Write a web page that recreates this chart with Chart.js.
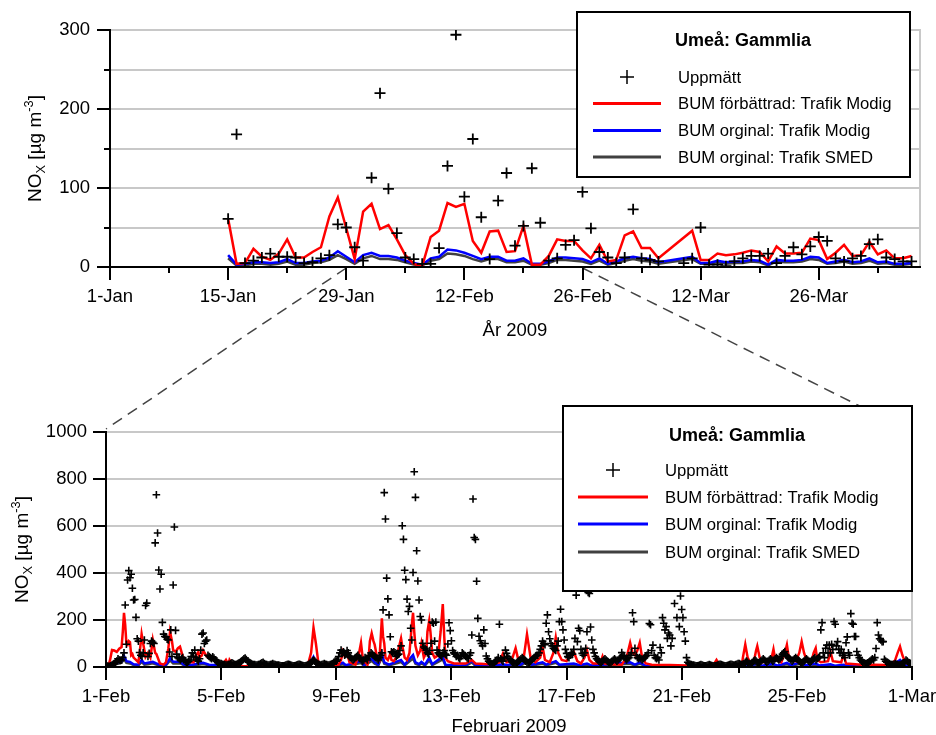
<!DOCTYPE html>
<html><head><meta charset="utf-8">
<script src="https://cdn.jsdelivr.net/npm/chart.js@4.4.1/dist/chart.umd.min.js"></script>
<style>
html,body{margin:0;padding:0;background:#fff;}
#wrap{position:relative;width:936px;height:735px;overflow:hidden;background:#fff;}
canvas{position:absolute;left:0;}
#links{top:0;z-index:0}
#top{top:0;z-index:1}
#bot{top:345px;z-index:1}
</style></head><body>
<div id="wrap">
<canvas id="links" width="936" height="735"></canvas>
<canvas id="top" width="936" height="345"></canvas>
<canvas id="bot" width="936" height="390"></canvas>
</div>
<script>
// ---------------- DATA ----------------
const legendTitle = 'Umeå: Gammlia';
const seriesNames = ['Uppmätt', 'BUM förbättrad: Trafik Modig', 'BUM orginal: Trafik Modig', 'BUM orginal: Trafik SMED'];

// Top panel: daily means, first value = 15-Jan (day 14 counted from 1-Jan)
const topStartDay = 14;
const topTickLabels = ['1-Jan', '15-Jan', '29-Jan', '12-Feb', '26-Feb', '12-Mar', '26-Mar'];
const topMeasured = [61,168,5,8,12,17,13,13,12,5,6,11,15,54,50,25,8,113,220,99,43,12,10,4,4,24,128,294,89,162,63,10,84,119,27,52,125,56,8,11,28,34,95,49,19,12,5,12,73,11,9,7,null,null,5,11,50,3,3,1,7,11,14,14,17,5,14,25,16,26,38,33,11,7,11,14,29,35,12,10,7,7];
const topRed = [61,4,5,23,13,9,17,35,12,12,19,25,64,88,49,10,70,80,48,53,35,15,4,1,38,46,81,76,80,33,18,45,46,19,20,52,3,3,14,35,33,33,21,11,28,7,9,40,45,24,24,11,null,null,null,46,9,9,17,15,16,18,21,19,7,26,17,17,18,36,34,10,18,28,14,15,32,16,21,11,11,14];
const topBlue = [15,3,4,6,6,5,6,10,5,5,7,8,12,20,13,6,15,18,14,14,12,8,5,3,11,13,22,21,18,14,10,13,13,8,8,11,4,4,7,12,12,11,10,6,11,4,7,11,13,11,10,6,null,null,null,13,5,5,8,6,7,7,9,8,3,9,8,8,9,13,12,5,7,9,6,7,11,6,7,4,4,5];
const topGray = [11,2,2,4,4,3,4,7,3,3,5,6,9,15,10,4,11,14,10,10,9,6,3,2,8,10,17,16,14,10,7,10,10,6,6,8,3,3,5,9,9,8,7,4,8,3,5,8,10,8,7,4,null,null,null,10,4,4,6,4,5,5,7,6,2,7,6,6,7,10,9,4,5,7,4,5,8,4,5,3,3,4];

// Bottom panel: hourly values, February 2009 (one row per day, 24 hours)
const botTickLabels = ['1-Feb', '5-Feb', '9-Feb', '13-Feb', '17-Feb', '21-Feb', '25-Feb', '1-Mar'];
const botMeasured = [
  5,4,3,3,5,8,12,15,20,25,35,30,28,30,40,60,264,97,370,410,380,395,335,285,
  287,211,120,110,62,50,45,60,115,262,272,45,58,100,110,105,100,528,733,570,413,332,395,190,
  140,130,128,118,115,64,158,45,349,596,156,55,40,35,30,35,40,30,25,20,20,25,30,45,
  60,45,72,40,30,25,35,72,140,145,100,110,115,50,45,40,35,43,38,30,25,20,18,15,
  15,12,10,10,8,8,10,12,15,18,15,12,10,12,15,18,20,25,30,35,38,32,25,20,
  18,15,12,10,10,8,8,10,12,15,18,20,15,12,10,8,8,10,12,15,12,10,8,8,
  8,6,5,5,5,6,8,10,12,10,8,6,5,5,6,8,10,12,10,8,6,5,5,6,
  8,10,15,20,25,30,25,20,15,12,10,8,10,12,15,12,10,8,8,10,12,15,20,25,
  25,30,45,60,72,58,65,50,55,70,60,45,40,35,30,35,40,45,50,40,35,30,25,30,
  40,35,30,45,50,60,55,50,45,40,35,30,40,50,60,243,742,630,378,290,222,129,65,60,
  65,60,45,50,55,70,90,601,543,412,372,289,236,258,165,115,402,831,722,495,366,285,215,200,
  101,85,80,72,60,55,70,101,191,186,110,191,72,60,55,50,45,60,70,55,50,98,188,155,
  112,70,60,55,45,50,40,35,45,60,55,50,45,40,35,50,60,136,715,551,543,365,207,131,
  112,100,90,158,100,47,35,25,20,15,12,15,20,25,30,40,182,35,30,25,40,72,58,45,
  35,30,25,20,18,15,15,20,25,30,35,40,35,30,25,20,18,20,25,30,35,40,45,50,
  50,60,75,90,110,100,95,186,222,150,120,100,90,80,75,70,90,110,193,246,193,158,115,75,
  58,44,40,50,60,55,75,122,306,108,165,155,75,58,50,60,80,150,317,313,170,115,75,60,
  45,35,30,25,20,20,25,30,35,30,25,20,18,20,25,30,35,30,25,30,35,40,61,50,
  45,35,30,35,40,50,60,231,193,80,50,40,35,40,35,30,35,40,45,50,60,185,180,70,
  93,50,40,35,40,30,83,60,210,186,158,172,122,145,136,90,122,342,270,342,210,342,172,302,
  245,210,150,110,40,20,15,12,10,8,8,6,5,5,6,8,10,8,6,5,5,6,8,10,
  8,6,5,5,5,6,8,10,12,10,8,6,5,5,6,8,10,12,10,8,8,10,12,15,
  15,12,10,12,15,20,25,20,15,12,15,20,25,30,25,20,18,20,25,30,35,30,25,20,
  25,30,35,30,25,30,35,40,35,30,35,45,55,60,66,50,45,40,35,30,25,30,35,40,
  35,30,25,20,18,20,25,30,35,30,25,20,25,30,35,40,30,35,40,45,158,189,60,40,
  80,93,60,93,60,97,75,193,182,90,108,75,60,75,50,60,40,103,128,60,50,227,186,182,
  130,130,66,50,40,30,25,20,18,15,15,18,20,25,30,35,30,40,79,189,136,120,115,108,
  108,33,25,20,18,15,12,10,10,12,15,12,10,8,10,12,15,18,20,30,25,20,18,15
];
// Model lines as [hour, value] vertices
const botRed = [[0,0],[2,5],[3.4,30],[5,72],[7,70],[9,64],[11,78],[13,85],[14,150],[15,230],[16,180],[17,100],[18,95],[19,110],[20,106],[21,50],[22,55],[23,40],[25,30],[27,20],[28.5,80],[29.7,140],[31,100],[33,43],[35,60],[37,40],[39,115],[41,60],[42,55],[45,15],[48,10],[50,20],[52,80],[53.4,150],[55,110],[56,72],[58,65],[60,80],[61.7,87],[64,45],[67,20],[70,20],[73,20],[75,50],[77,64],[78,40],[80,50],[81,70],[84,45],[88,30],[90,35],[93,15],[97,10],[100,30],[102,10],[103,30],[106,5],[110,3],[168,3],[171,60],[173,167],[175,100],[177,20],[180,10],[184,15],[188,8],[194,10],[196,30],[197.5,65],[199,45],[201,60],[203,20],[208,10],[211,60],[212.6,103],[214,40],[216,20],[218,10],[219,40],[220,110],[221.5,143],[223,110],[224,95],[226,40],[228,30],[229,120],[230,207],[231,130],[232,100],[233,40],[235,30],[237,55],[238,30],[240,25],[243,50],[244,80],[246,122],[247,90],[249,40],[251,30],[253,60],[254,120],[255,180],[256,231],[257,150],[258,90],[260,50],[262,70],[263,100],[265,40],[267,60],[268,150],[269.5,197],[270.5,150],[272,60],[274,40],[277,50],[279,150],[280.8,268],[282,130],[283,40],[285,25],[290,15],[300,15],[305,30],[308,15],[320,12],[328,20],[331,58],[334,20],[338,25],[341.5,80],[344,25],[348,30],[351,139],[354,40],[358,20],[362,40],[364,86],[366,30],[370,20],[373,60],[375,126],[377,60],[380,30],[384,25],[387,50],[390,65],[393,25],[396,15],[399,40],[401,72],[403,30],[406,15],[412,15],[414,45],[416,15],[422,12],[430,10],[434,40],[437,103],[439,60],[441,50],[443,70],[445,103],[447,40],[450,15],[455,10],[470,8],[490,5],[506,5],[509,30],[512,5],[530,5],[531,40],[533,96],[535,40],[537,20],[540,20],[542,70],[543,89],[545,40],[547,20],[552,25],[555,40],[556.5,75],[558,30],[563,20],[566,60],[567.7,94],[569,50],[572,30],[575,25],[578,60],[580,108],[582,60],[584,30],[588,20],[590,60],[591.7,80],[593,30],[596,20],[602,25],[604,65],[606,25],[613,20],[615,55],[617,15],[630,10],[640,10],[650,8],[655,10],[658,30],[660,60],[662,87],[664,50],[666,25],[668,15],[671,10]];
const botBlue = [[0,0],[3,10],[6,18],[10,20],[13,25],[15,47],[17,25],[20,22],[23,12],[27,10],[29.7,30],[32,15],[35,18],[39,22],[42,15],[46,8],[50,10],[53.4,38],[56,22],[61.7,22],[65,10],[70,8],[77,15],[81,18],[86,10],[95,8],[103,10],[110,3],[168,3],[171,20],[173,42],[176,8],[190,5],[197.5,18],[200,8],[212.6,25],[215,8],[221.5,37],[224,20],[227,10],[230,58],[232,20],[236,10],[246,30],[249,10],[256,51],[258,20],[261,12],[263,22],[266,10],[269.5,40],[272,12],[280.8,45],[283,10],[295,5],[300,8],[305,27],[308,8],[320,5],[331,12],[335,8],[341.5,18],[345,8],[351,28],[355,10],[364,20],[367,10],[375,25],[378,10],[390,15],[395,8],[401,15],[405,6],[437,20],[441,10],[445,20],[450,5],[500,3],[509,6],[520,3],[533,15],[536,6],[543,15],[547,5],[556,14],[560,6],[567.7,18],[571,8],[580,22],[583,8],[591.7,15],[595,6],[604,12],[608,5],[615,10],[620,4],[640,4],[655,5],[662,30],[666,8],[671,5]];
const botGray = [[0,0],[3,8],[6,12],[10,14],[13,18],[15,33],[17,18],[20,15],[23,8],[27,7],[29.7,22],[32,10],[35,12],[39,16],[42,10],[46,5],[50,7],[53.4,28],[56,15],[61.7,16],[65,7],[70,5],[77,10],[81,13],[86,7],[95,5],[103,7],[110,2],[168,2],[171,14],[173,30],[176,5],[190,3],[197.5,12],[200,5],[212.6,17],[215,5],[221.5,26],[224,14],[227,7],[230,40],[232,14],[236,7],[246,21],[249,7],[256,36],[258,14],[261,8],[263,15],[266,7],[269.5,28],[272,8],[280.8,32],[283,7],[295,3],[300,5],[305,20],[308,5],[320,3],[331,8],[335,5],[341.5,12],[345,5],[351,20],[355,7],[364,14],[367,7],[375,18],[378,7],[390,10],[395,5],[401,10],[405,4],[437,14],[441,7],[445,14],[450,3],[500,2],[509,4],[520,2],[533,10],[536,4],[543,10],[547,3],[556,10],[560,4],[567.7,12],[571,5],[580,15],[583,5],[591.7,10],[595,4],[604,8],[608,3],[615,7],[620,2],[640,2],[655,3],[662,20],[666,5],[671,3]];

// zoom connectors: top-panel days where the dashed lines start
const linkDays = [28, 56];

// ---------------- STYLE ----------------
const FONT = "'Liberation Sans', Arial, Helvetica, sans-serif";
const COLORS = ['#000000', '#ff0000', '#0000ff', '#404040'];
const GRID = '#c8c8c8';

function drawYTitle(ctx, cx, cy, size) {
  const sub = size * 0.68;
  const parts = [
    {t: 'NO', s: size, dy: 0},
    {t: 'X', s: sub, dy: size * 0.22},
    {t: ' [µg m', s: size, dy: 0},
    {t: '-3', s: sub, dy: -size * 0.38},
    {t: ']', s: size, dy: 0}
  ];
  ctx.save();
  ctx.translate(cx, cy);
  ctx.rotate(-Math.PI / 2);
  ctx.fillStyle = '#000';
  ctx.textBaseline = 'alphabetic';
  let total = 0;
  parts.forEach(p => { ctx.font = p.s + 'px ' + FONT; p.w = ctx.measureText(p.t).width; total += p.w; });
  let x = -total / 2;
  const base = size * 0.35;
  parts.forEach(p => { ctx.font = p.s + 'px ' + FONT; ctx.fillText(p.t, x, base + p.dy); x += p.w; });
  ctx.restore();
}

function drawLegend(ctx, L) {
  ctx.save();
  ctx.fillStyle = '#fff';
  ctx.fillRect(L.x, L.y, L.w, L.h);
  ctx.strokeStyle = '#000'; ctx.lineWidth = 2;
  ctx.strokeRect(L.x, L.y, L.w, L.h);
  ctx.fillStyle = '#000';
  ctx.font = 'bold ' + L.titleSize + 'px ' + FONT;
  ctx.textAlign = 'center'; ctx.textBaseline = 'middle';
  ctx.fillText(legendTitle, L.titleX, L.titleY);
  ctx.font = L.size + 'px ' + FONT;
  ctx.textAlign = 'left';
  seriesNames.forEach((name, i) => {
    const y = L.rows[i];
    ctx.strokeStyle = COLORS[i];
    if (i === 0) {
      const cx = (L.lx0 + L.lx1) / 2, r = L.cross;
      ctx.lineWidth = 1.5;
      ctx.beginPath();
      ctx.moveTo(cx - r, y); ctx.lineTo(cx + r, y);
      ctx.moveTo(cx, y - r); ctx.lineTo(cx, y + r);
      ctx.stroke();
    } else {
      ctx.lineWidth = 3;
      ctx.beginPath(); ctx.moveTo(L.lx0, y); ctx.lineTo(L.lx1, y); ctx.stroke();
    }
    ctx.fillText(name, L.tx, y + 1);
  });
  ctx.restore();
}

const deco = {
  id: 'deco',
  afterDraw(chart, args, o) {
    const ctx = chart.ctx, ca = chart.chartArea, xs = chart.scales.x, ys = chart.scales.y;
    ctx.save();
    ctx.strokeStyle = GRID; ctx.lineWidth = 2;
    ctx.beginPath(); ctx.moveTo(ca.right, ca.top - 1); ctx.lineTo(ca.right, ca.bottom); ctx.stroke();
    ctx.strokeStyle = '#000'; ctx.lineWidth = 2;
    ctx.beginPath();
    ctx.moveTo(ca.left, ca.top - 1); ctx.lineTo(ca.left, ca.bottom + o.major);
    ctx.moveTo(ca.left, ca.bottom); ctx.lineTo(ca.right + 1, ca.bottom);
    xs.ticks.forEach(t => {
      const x = Math.round(xs.getPixelForValue(t.value));
      const len = t.label ? o.major : o.minor;
      ctx.moveTo(x, ca.bottom); ctx.lineTo(x, ca.bottom + len);
    });
    ys.ticks.forEach(t => {
      const y = Math.round(ys.getPixelForValue(t.value));
      const len = t.label ? o.major : o.minor;
      ctx.moveTo(ca.left - len, y); ctx.lineTo(ca.left, y);
    });
    ctx.stroke();
    ctx.restore();
    drawYTitle(ctx, o.yTitleX, (ca.top + ca.bottom) / 2, o.yTitleSize);
    drawLegend(ctx, o.legend);
  }
};

function makeChart(canvas, cfg) {
  return new Chart(canvas, {
    type: 'scatter',
    data: {
      datasets: [
        {data: cfg.measured, showLine: false, pointStyle: 'cross', pointRadius: cfg.crossR, pointBorderWidth: cfg.crossW, borderColor: '#000', backgroundColor: '#000'},
        {data: cfg.red, showLine: true, borderColor: COLORS[1], borderWidth: cfg.lineW, pointRadius: 0, spanGaps: true, tension: 0},
        {data: cfg.blue, showLine: true, borderColor: COLORS[2], borderWidth: cfg.lineW, pointRadius: 0, spanGaps: true, tension: 0},
        {data: cfg.gray, showLine: true, borderColor: COLORS[3], borderWidth: cfg.lineW, pointRadius: 0, spanGaps: true, tension: 0}
      ]
    },
    options: {
      responsive: false, animation: false, events: [],
      devicePixelRatio: 1,
      layout: {padding: cfg.padding},
      plugins: {legend: {display: false}, tooltip: {enabled: false}, deco: cfg.deco},
      scales: {
        x: {
          type: 'linear', min: cfg.xMin, max: cfg.xMax,
          grid: {display: false, drawTicks: false},
          border: {display: false},
          afterFit: s => { s.height = cfg.xHeight; s.paddingLeft = 0; s.paddingRight = 0; },
          ticks: {
            stepSize: cfg.xStep, includeBounds: false, autoSkip: false, maxRotation: 0,
            padding: 19, color: '#000', font: {family: FONT, size: 18.5},
            callback: v => (v % cfg.xMajor === 0 ? cfg.xLabels[v / cfg.xMajor] : '')
          },
          title: {display: true, text: cfg.xTitle, color: '#000', font: {family: FONT, size: 18.5}, padding: cfg.xTitlePad}
        },
        y: {
          min: 0, max: cfg.yMax,
          grid: {drawTicks: false, lineWidth: 2, color: c => (c.tick && c.tick.value % cfg.yGrid === 0 && c.tick.value !== 0 ? GRID : 'rgba(0,0,0,0)')},
          border: {display: false},
          afterFit: s => { s.width = cfg.yWidth; s.paddingTop = 0; s.paddingBottom = 0; },
          ticks: {
            stepSize: cfg.yStep, padding: cfg.yPad, color: '#000', font: {family: FONT, size: 18.5},
            callback: v => (v % cfg.yMajor === 0 ? String(v) : '')
          }
        }
      }
    },
    plugins: [deco]
  });
}

const topChart = makeChart(document.getElementById('top'), {
  measured: topMeasured.map((v, i) => ({x: topStartDay + i, y: v})),
  red: topRed.map((v, i) => ({x: topStartDay + i, y: v})),
  blue: topBlue.map((v, i) => ({x: topStartDay + i, y: v})),
  gray: topGray.map((v, i) => ({x: topStartDay + i, y: v})),
  crossR: 5.5, crossW: 1.8, lineW: 2.5,
  padding: {top: 30, right: 16, left: 0, bottom: 0},
  xMin: 0, xMax: 96, xStep: 7, xMajor: 14, xLabels: topTickLabels, xHeight: 78,
  xTitle: 'År 2009', xTitlePad: {top: 0, bottom: 3},
  yMax: 300, yStep: 50, yMajor: 100, yGrid: 50, yWidth: 110, yPad: 20,
  deco: {
    major: 13, minor: 6, yTitleX: 34, yTitleSize: 19,
    legend: {x: 577, y: 12, w: 333, h: 165, titleX: 743, titleY: 41, titleSize: 18, size: 16.7,
      rows: [77, 103.5, 130.5, 157], lx0: 593, lx1: 661, tx: 678, cross: 7}
  }
});

const botChart = makeChart(document.getElementById('bot'), {
  measured: botMeasured.map((v, i) => ({x: i, y: v})),
  red: botRed.map(p => ({x: p[0], y: p[1]})),
  blue: botBlue.map(p => ({x: p[0], y: p[1]})),
  gray: botGray.map(p => ({x: p[0], y: p[1]})),
  crossR: 3.8, crossW: 1.6, lineW: 2.5,
  padding: {top: 87, right: 24, left: 0, bottom: 0},
  xMin: 0, xMax: 672, xStep: 48, xMajor: 96, xLabels: botTickLabels, xHeight: 68,
  xTitle: 'Februari 2009', xTitlePad: {top: 0, bottom: -3},
  yMax: 1000, yStep: 100, yMajor: 200, yGrid: 200, yWidth: 106, yPad: 19,
  deco: {
    major: 13, minor: 6, yTitleX: 21, yTitleSize: 19,
    legend: {x: 563, y: 61, w: 349, h: 185, titleX: 737, titleY: 91, titleSize: 18, size: 16.7,
      rows: [125, 152, 179, 207], lx0: 578, lx1: 648, tx: 665, cross: 7}
  }
});

// dashed zoom connectors between the panels
(function () {
  const c = document.getElementById('links').getContext('2d');
  const ta = topChart.chartArea, ba = botChart.chartArea, off = 345;
  const xs = topChart.scales.x;
  c.strokeStyle = '#444'; c.lineWidth = 1.5; c.setLineDash([11, 7]);
  c.beginPath();
  c.moveTo(xs.getPixelForValue(linkDays[0]), ta.bottom + 1);
  c.lineTo(ba.left, ba.top + off - 3);
  c.moveTo(xs.getPixelForValue(linkDays[1]), ta.bottom + 1);
  c.lineTo(ba.right, ba.top + off);
  c.stroke();
})();
</script>
</body></html>
